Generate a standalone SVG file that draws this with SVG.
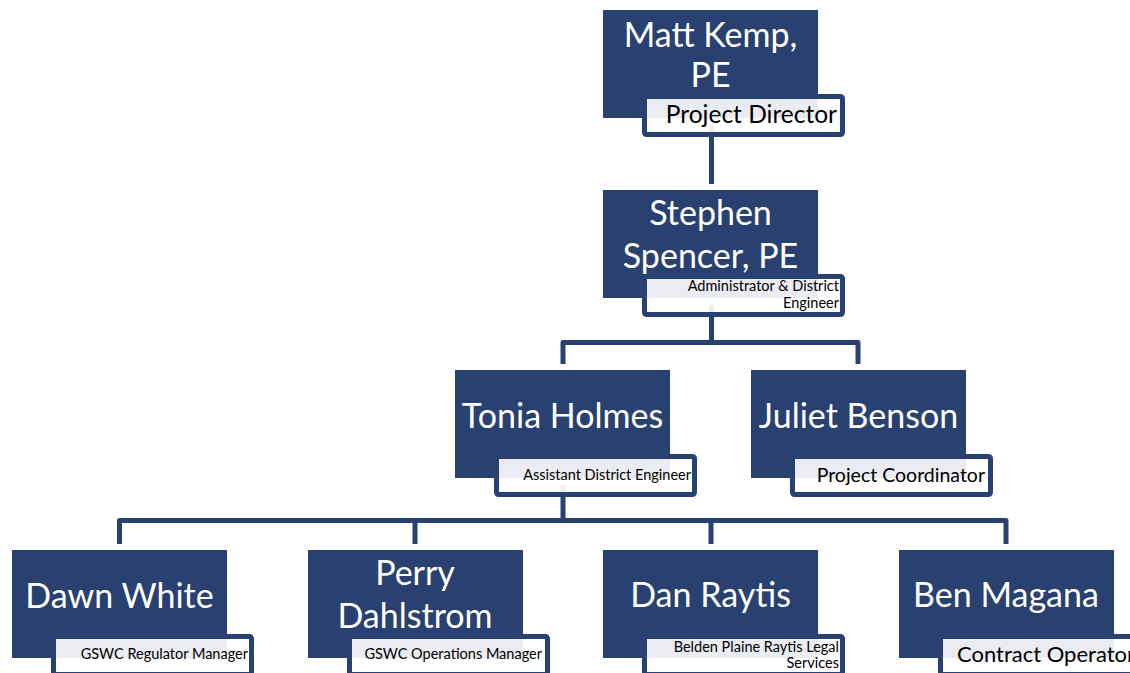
<svg xmlns="http://www.w3.org/2000/svg" width="1130" height="673" viewBox="0 0 1130 673">
<style>
.box{fill:#294171}
.lbl{fill:#ffffff;fill-opacity:0.9;stroke:#294171;stroke-width:5}
.name{fill:#ffffff;font-family:Lato,"Liberation Sans",sans-serif;font-size:34px;text-anchor:middle}
.big{fill:#000000;font-family:Lato,"Liberation Sans",sans-serif;font-size:22px;text-anchor:end}
.sm{fill:#000000;font-family:Lato,"Liberation Sans",sans-serif;font-size:14.5px;text-anchor:end}
.con{fill:none;stroke:#294171;stroke-width:5;stroke-linejoin:round}
</style>
<rect width="1130" height="673" fill="#ffffff"/>
<g id="connectors">
<path class="con" d="M711.5,125 V184"/>
<path class="con" d="M711.5,305 V342.5"/>
<path class="con" d="M563,364 V342.5 H858 V364"/>
<path class="con" d="M563,485 V520.5"/>
<path class="con" d="M119.5,544 V520.5 H1006 V544"/>
<path class="con" d="M415,520.5 V544"/>
<path class="con" d="M711,520.5 V544"/>
</g>
<g id="matt-kemp">
<rect class="box" x="603" y="10" width="215" height="108"/>
<text class="name" x="710.5" y="47">Matt Kemp,</text>
<text class="name" x="710.5" y="87">PE</text>
<rect class="lbl" x="644.5" y="96.5" width="198" height="38" rx="2"/>
<text class="big" x="837" y="123" style="font-size:24.5px">Project Director</text>
</g>
<g id="stephen-spencer">
<rect class="box" x="603" y="190" width="215" height="108"/>
<text class="name" x="710.5" y="225">Stephen</text>
<text class="name" x="710.5" y="268">Spencer, PE</text>
<rect class="lbl" x="644.5" y="276.5" width="198" height="38" rx="2"/>
<text class="sm" x="839" y="291">Administrator &amp; District</text>
<text class="sm" x="839" y="308">Engineer</text>
</g>
<g id="tonia-holmes">
<rect class="box" x="455" y="370" width="215" height="108"/>
<text class="name" x="562.5" y="428">Tonia Holmes</text>
<rect class="lbl" x="496.5" y="456.5" width="198" height="38" rx="2"/>
<text class="sm" x="691" y="480">Assistant District Engineer</text>
</g>
<g id="juliet-benson">
<rect class="box" x="751" y="370" width="215" height="108"/>
<text class="name" x="858.5" y="428">Juliet Benson</text>
<rect class="lbl" x="792.5" y="456.5" width="198" height="38" rx="2"/>
<text class="big" x="985" y="482" style="font-size:19.5px">Project Coordinator</text>
</g>
<g id="dawn-white">
<rect class="box" x="12" y="550" width="215" height="108"/>
<text class="name" x="119.5" y="608">Dawn White</text>
<rect class="lbl" x="53.5" y="636.5" width="198" height="38" rx="2"/>
<text class="sm" x="248" y="659">GSWC Regulator Manager</text>
</g>
<g id="perry-dahlstrom">
<rect class="box" x="308" y="550" width="215" height="108"/>
<text class="name" x="415" y="585">Perry</text>
<text class="name" x="415" y="628">Dahlstrom</text>
<rect class="lbl" x="349.5" y="636.5" width="198" height="38" rx="2"/>
<text class="sm" x="542" y="659">GSWC Operations Manager</text>
</g>
<g id="dan-raytis">
<rect class="box" x="603" y="550" width="215" height="108"/>
<text class="name" x="710.5" y="607">Dan Raytis</text>
<rect class="lbl" x="644.5" y="636.5" width="198" height="38" rx="2"/>
<text class="sm" x="839" y="652">Belden Plaine Raytis Legal</text>
<text class="sm" x="839" y="668">Services</text>
</g>
<g id="ben-magana">
<rect class="box" x="899" y="550" width="215" height="108"/>
<text class="name" x="1006" y="607">Ben Magana</text>
<rect class="lbl" x="940.5" y="636.5" width="198" height="38" rx="2"/>
<text class="big" x="1135" y="662">Contract Operator</text>
</g>
</svg>
